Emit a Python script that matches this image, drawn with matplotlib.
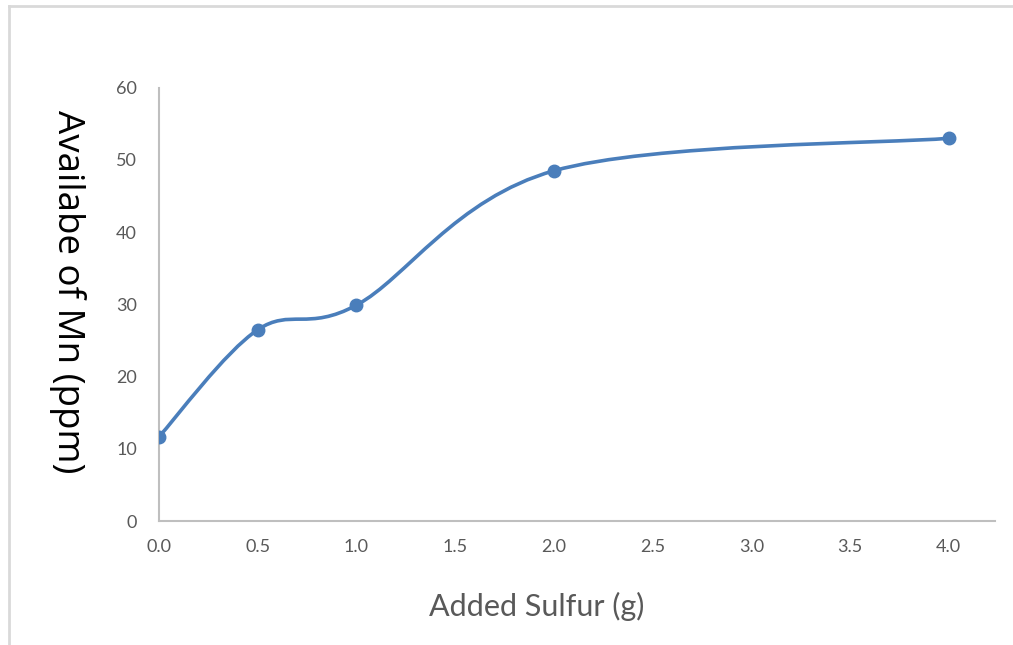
import matplotlib
matplotlib.use("Agg")
import matplotlib.pyplot as plt
from matplotlib.path import Path
from matplotlib.patches import PathPatch
from matplotlib.lines import Line2D

sulfur = [0.0, 0.5, 1.0, 2.0, 4.0]
mn = [11.7, 26.5, 29.9, 48.5, 53.0]
xticks = [0.0, 0.5, 1.0, 1.5, 2.0, 2.5, 3.0, 3.5, 4.0]
yticks = [0, 10, 20, 30, 40, 50, 60]

blue = "#4A7EBB"
grey = "#595959"
tickfont = ["Lato", "DejaVu Sans"]


def smooth_path(xs, ys):
    # excel-like smoothed line: bezier segments through every point
    pts = list(zip(xs, ys))
    n = len(pts)
    verts = [pts[0]]
    codes = [Path.MOVETO]
    for i in range(n - 1):
        p0 = pts[max(i - 1, 0)]
        p1 = pts[i]
        p2 = pts[i + 1]
        p3 = pts[min(i + 2, n - 1)]
        c1 = (p1[0] + (p2[0] - p0[0]) / 6, p1[1] + (p2[1] - p0[1]) / 6)
        c2 = (p2[0] - (p3[0] - p1[0]) / 6, p2[1] - (p3[1] - p1[1]) / 6)
        verts += [c1, c2, p2]
        codes += [Path.CURVE4] * 3
    return Path(verts, codes)


fig = plt.figure(figsize=(10.13, 6.45), dpi=100)
ax = fig.add_axes([0.157, 0.192, 0.825, 0.672])

ax.add_patch(PathPatch(smooth_path(sulfur, mn), fill=False, edgecolor=blue,
                       linewidth=2.6, capstyle="round", zorder=3))
ax.plot(sulfur, mn, "o", color=blue, markersize=9, zorder=4)

ax.set_xlim(0, 4.233)
ax.set_ylim(0, 60)
ax.set_xticks(xticks)
ax.set_xticklabels(["%.1f" % v for v in xticks], family=tickfont, fontsize=13, color=grey)
ax.set_yticks(yticks)
ax.set_yticklabels([str(v) for v in yticks], family=tickfont, fontsize=13, color=grey)
ax.tick_params(length=0, pad=13)
ax.tick_params(axis="y", pad=16)

for s in ["top", "right"]:
    ax.spines[s].set_visible(False)
for s in ["left", "bottom"]:
    ax.spines[s].set_color("#BFBFBF")
    ax.spines[s].set_linewidth(1.5)

fig.text(0.530, 0.06, "Added Sulfur (g)", ha="center", va="center",
         family=tickfont, fontsize=22, color=grey)
fig.text(0.067, 0.547, "Availabe of Mn (ppm)", rotation=270, ha="center", va="center",
         fontsize=26.5, color="black", family=["Open Sans", "DejaVu Sans"])

# light frame of the chart area (left and top edges)
fig.add_artist(Line2D([0.009, 0.009], [0.0, 0.991], color="#D9D9D9", linewidth=2,
                      transform=fig.transFigure))
fig.add_artist(Line2D([0.009, 1.0], [0.991, 0.991], color="#D9D9D9", linewidth=2,
                      transform=fig.transFigure))

fig.savefig("out.png", dpi=100)
